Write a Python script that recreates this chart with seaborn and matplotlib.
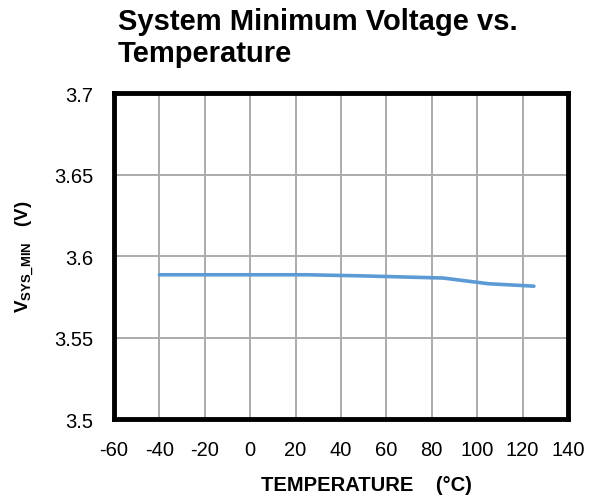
import matplotlib
matplotlib.use("Agg")
import matplotlib.pyplot as plt
import pandas as pd
import seaborn as sns

temperature = [-40, 0, 25, 50, 85, 105, 125]
vsys_min = [3.5885, 3.5885, 3.5885, 3.5878, 3.5865, 3.5830, 3.5815]
x_ticks = [-60, -40, -20, 0, 20, 40, 60, 80, 100, 120, 140]
y_ticks = [3.5, 3.55, 3.6, 3.65, 3.7]
y_tick_labels = ["3.5", "3.55", "3.6", "3.65", "3.7"]


def main() -> None:
    sns.set_theme(style="white")
    plt.rcParams["font.family"] = ["Liberation Sans", "DejaVu Sans"]
    plt.rcParams["text.color"] = "black"
    plt.rcParams["axes.labelcolor"] = "black"
    plt.rcParams["mathtext.fontset"] = "custom"
    plt.rcParams["mathtext.rm"] = "Liberation Sans"
    plt.rcParams["mathtext.bf"] = "Liberation Sans:bold"

    df = pd.DataFrame({"temp": temperature, "v": vsys_min})

    fig = plt.figure(figsize=(5.93, 5.02), dpi=100)
    ax = fig.add_axes([0.1922, 0.1633, 0.7656, 0.6494])
    sns.lineplot(data=df, x="temp", y="v", color="#5B9BD5", linewidth=2.6, ax=ax)

    ax.set_xlim(-60, 140)
    ax.set_ylim(3.5, 3.7)
    ax.set_xticks(x_ticks, [str(t) for t in x_ticks])
    ax.set_yticks(y_ticks, y_tick_labels)
    ax.tick_params(axis="both", labelsize=14.5, colors="black", length=0, pad=15)
    ax.grid(True, color="#ABABAB", linewidth=1.4)
    for spine in ax.spines.values():
        spine.set_color("black")
        spine.set_linewidth(3.5)

    ax.set_xlabel("TEMPERATURE    (°C)", fontsize=14.5, fontweight="bold")
    ax.xaxis.set_label_coords(0.557, -0.172)
    ax.set_ylabel(r"$\mathbf{V_{SYS\_MIN}}$   (V)", fontsize=13.5, fontweight="bold", labelpad=12)

    fig.text(0.199, 0.984, "System Minimum Voltage vs.\nTemperature", fontsize=21,
             fontweight="bold", ha="left", va="top", linespacing=1.2)

    fig.savefig("out.png", dpi=100)
    plt.close(fig)


if __name__ == "__main__":
    main()
